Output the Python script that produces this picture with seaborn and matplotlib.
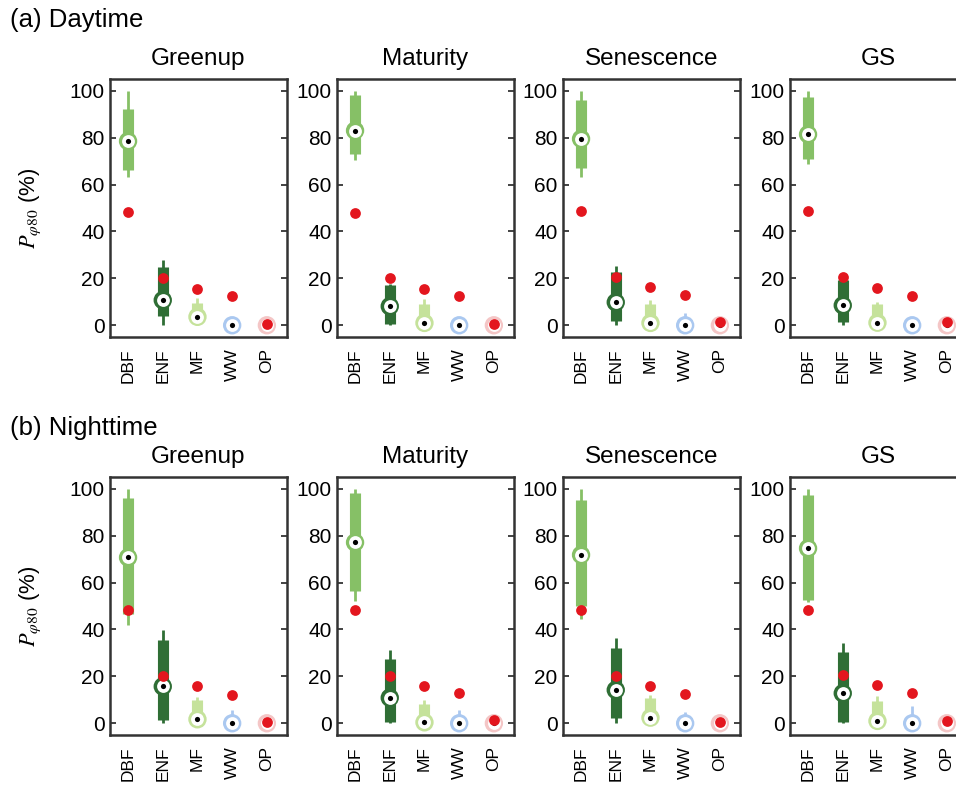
import numpy as np
import pandas as pd
import matplotlib
matplotlib.use('Agg')
import matplotlib.pyplot as plt
import seaborn as sns

# ---------------- data ----------------
categories = ['DBF', 'ENF', 'MF', 'WW', 'OP']
periods = ['Greenup', 'Maturity', 'Senescence', 'GS']
row_labels = ['(a) Daytime', '(b) Nighttime']

# Daytime (one list per period, values in category order)
day_lo = [[63.4, 0, 0, 0, 0], [70.5, 0, 0, 0, 0], [63.2, 0, 0, 0, 0], [68.7, 0, 0, 0, 0]]
day_q1 = [[66.0, 3.8, 2.0, 0, 0], [73.0, 0.7, 0, 0, 0], [67.0, 1.7, 0.5, 0, 0], [71.0, 1.4, 0.5, 0, 0]]
day_med = [[78.5, 10.7, 3.6, 0, 0], [83.0, 8.1, 1.0, 0, 0], [79.5, 9.8, 1.0, 0, 0], [81.4, 8.5, 1.1, 0, 0]]
day_q3 = [[92.0, 25.0, 9.3, 1.0, 0], [98.0, 17.0, 9.2, 1.0, 0], [96.0, 22.5, 9.0, 1.0, 0], [97.2, 19.5, 9.2, 0.5, 0]]
day_hi = [[100, 28.0, 11.5, 2.0, 0], [100, 17.5, 11.3, 2.8, 0], [100, 25.3, 10.9, 5.2, 0], [100, 21.0, 10.0, 1.0, 0]]
day_ref = [[48.1, 20.0, 15.5, 12.4, 0.5], [48.0, 20.3, 15.6, 12.3, 0.7], [48.7, 20.5, 16.3, 13.0, 1.5], [48.6, 20.6, 16.1, 12.5, 1.4]]

# Nighttime
night_lo = [[42.1, 0, 0, 0, 0], [52.0, 0, 0, 0, 0], [44.4, 0, 0, 0, 0], [51.6, 0, 0, 0, 0]]
night_q1 = [[46.4, 1.4, 0.5, 0, 0], [56.6, 0.4, 0, 0, 0], [50.1, 2.4, 0.5, 0, 0], [52.7, 0.7, 0.5, 0, 0]]
night_med = [[70.7, 15.7, 1.7, 0, 0], [77.1, 10.9, 0.4, 0, 0], [71.8, 14.2, 2.4, 0, 0], [74.6, 12.8, 1.0, 0, 0]]
night_q3 = [[96.0, 35.7, 10.0, 1.0, 0], [98.0, 27.6, 8.2, 1.0, 0], [95.4, 32.3, 10.7, 1.0, 0], [97.4, 30.2, 9.5, 1.0, 0]]
night_hi = [[100, 39.6, 11.4, 5.7, 0], [100, 31.4, 9.9, 5.7, 0], [100, 36.2, 12.0, 4.6, 0], [100, 34.2, 11.7, 7.4, 0]]
night_ref = [[48.3, 20.3, 15.7, 12.1, 0.4], [48.1, 20.2, 16.0, 12.7, 1.4], [48.3, 20.2, 15.7, 12.4, 0.6], [48.4, 20.5, 16.2, 12.8, 1.0]]

colors = ['#86c066', '#2f6e35', '#c5e29b', '#aac8f0', '#f4c6c6']
ref_color = '#e3161e'

# ---------------- build table ----------------
records = []
for r, (lo, q1, med, q3, hi, ref) in enumerate([
        (day_lo, day_q1, day_med, day_q3, day_hi, day_ref),
        (night_lo, night_q1, night_med, night_q3, night_hi, night_ref)]):
    for p, period in enumerate(periods):
        for c, cat in enumerate(categories):
            records.append(dict(row=r, period=period, category=cat, pos=c,
                                lo=lo[p][c], q1=q1[p][c], med=med[p][c],
                                q3=q3[p][c], hi=hi[p][c], ref=ref[p][c],
                                color=colors[c]))
df = pd.DataFrame(records)
palette = dict(zip(categories, colors))

# ---------------- figure ----------------
sns.set_style('white')
plt.rcParams['font.family'] = ['Liberation Sans', 'DejaVu Sans']
plt.rcParams['mathtext.fontset'] = 'stix'
for k in ['text.color', 'axes.labelcolor', 'xtick.color', 'ytick.color']:
    plt.rcParams[k] = 'black'

W, H = 956, 787
fig = plt.figure(figsize=(W / 100, H / 100), dpi=100)

lefts = [110, 337, 563, 790]
ax_w = 177
tops = [79, 477]
ax_h = 258

for r in range(2):
    fig.text(10 / W, 1 - (20 if r == 0 else 428) / H, row_labels[r],
             fontsize=18.5, va='center', ha='left', color='black')
    for p, period in enumerate(periods):
        ax = fig.add_axes([lefts[p] / W, 1 - (tops[r] + ax_h) / H, ax_w / W, ax_h / H])
        d = df[(df.row == r) & (df.period == period)]
        ax.vlines(d.pos, d.lo, d.hi, colors=d.color, lw=2.0, zorder=2)
        ax.vlines(d.pos, d.q1, d.q3, colors=d.color, lw=8.0, zorder=3)
        sns.scatterplot(data=d, x='pos', y='med', hue='category', palette=palette,
                        s=175, linewidth=0, legend=False, ax=ax, zorder=4)
        sns.scatterplot(data=d, x='pos', y='med', color='white',
                        s=85, linewidth=0, legend=False, ax=ax, zorder=5)
        sns.scatterplot(data=d, x='pos', y='med', color='black',
                        s=14, linewidth=0, legend=False, ax=ax, zorder=6)
        sns.scatterplot(data=d, x='pos', y='ref', color=ref_color, marker='o',
                        s=60, linewidth=0, legend=False, ax=ax, zorder=7)
        ax.set_xlim(-0.52, 4.58)
        ax.set_ylim(-5, 105)
        ax.set_yticks([0, 20, 40, 60, 80, 100])
        ax.set_xticks(range(len(categories)))
        ax.set_xticklabels(categories, rotation=90, fontsize=12.5)
        ax.tick_params(axis='y', direction='in', left=True, right=True,
                       length=4, width=1.2, labelsize=15, pad=4, color='#222222')
        ax.tick_params(axis='x', length=0, pad=8)
        for s in ax.spines.values():
            s.set_linewidth(1.8)
            s.set_color('#333333')
        ax.set_xlabel('')
        ax.set_title(period, fontsize=17.5, pad=10, color='black')
        if p == 0:
            ax.set_ylabel(r'$P_{\varphi 80}$ (%)', fontsize=16)
            ax.yaxis.set_label_coords(-0.38, 0.5)
        else:
            ax.set_ylabel('')

fig.savefig('out.png', dpi=100)
